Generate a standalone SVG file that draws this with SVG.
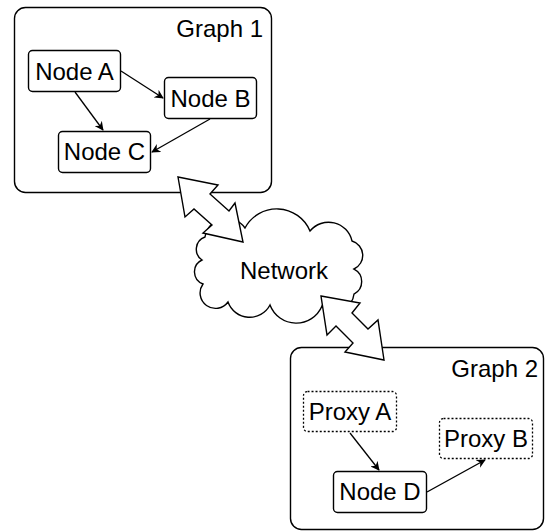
<svg xmlns="http://www.w3.org/2000/svg" width="545" height="531" viewBox="0 0 545 531">
<style>
.box{fill:#fff;stroke:#000;stroke-width:1.4}
.proxy{fill:#fff;stroke:#000;stroke-width:1.3;stroke-dasharray:2 2}
.lbl{font-family:"Liberation Sans",Arial,sans-serif;font-size:24px;fill:#000}
.edge{stroke:#000;stroke-width:1.3;fill:none;marker-end:url(#ah)}
.flex{fill:#fff;stroke:#000;stroke-width:1.4;stroke-linejoin:miter}
</style>
<defs>
<marker id="ah" viewBox="0 0 10 10" refX="9" refY="5" markerWidth="9" markerHeight="9" markerUnits="userSpaceOnUse" orient="auto">
<path d="M0,0 L10,5 L0,10 L3,5 Z" fill="#000"/>
</marker>
</defs>
<g id="graph1">
<rect class="box" x="14.5" y="7.5" width="257" height="185" rx="11"/>
<text class="lbl" x="263" y="37" text-anchor="end">Graph 1</text>
</g>
<g id="graph2">
<rect class="box" x="290.5" y="347.5" width="253" height="182" rx="11"/>
<text class="lbl" x="538" y="377" text-anchor="end">Graph 2</text>
</g>
<g id="network">
<path class="box" d="M205,237 A22,22 0 0 1 245,228 A36,36 0 0 1 310,231 A24,24 0 0 1 352,241 A15,15 0 0 1 354,269 A14,14 0 0 1 354,294 A19,19 0 0 1 322,306 A28,28 0 0 1 270,305 A23,23 0 0 1 228,302 A14,14 0 0 1 203,284 A13,13 0 0 1 202,260 A13,13 0 0 1 205,237 Z"/>
<text class="lbl" x="284" y="279" text-anchor="middle">Network</text>
</g>
<g id="node-a">
<rect class="box" x="28.5" y="50.5" width="92" height="41" rx="4"/>
<text class="lbl" x="74.5" y="80" text-anchor="middle">Node A</text>
</g>
<g id="node-b">
<rect class="box" x="164.5" y="77.5" width="92" height="41" rx="4"/>
<text class="lbl" x="210.5" y="107" text-anchor="middle">Node B</text>
</g>
<g id="node-c">
<rect class="box" x="58.5" y="131.5" width="92" height="41" rx="4"/>
<text class="lbl" x="104.5" y="160" text-anchor="middle">Node C</text>
</g>
<g id="proxy-a">
<rect class="proxy" x="303.5" y="391.5" width="93" height="40" rx="4"/>
<text class="lbl" x="350" y="420" text-anchor="middle">Proxy A</text>
</g>
<g id="proxy-b">
<rect class="proxy" x="439.5" y="418.5" width="93" height="40" rx="4"/>
<text class="lbl" x="486" y="447" text-anchor="middle">Proxy B</text>
</g>
<g id="node-d">
<rect class="box" x="333.5" y="471.5" width="93" height="41" rx="4"/>
<text class="lbl" x="380" y="500" text-anchor="middle">Node D</text>
</g>
<g id="connectors">
<line class="edge" x1="121" y1="71" x2="163" y2="98"/>
<line class="edge" x1="75" y1="92" x2="103" y2="130"/>
<line class="edge" x1="210" y1="119" x2="152" y2="152"/>
<line class="edge" x1="350" y1="433" x2="379" y2="470"/>
<line class="edge" x1="427" y1="492" x2="485" y2="460"/>
<polygon class="flex" points="178,177 218,185 210,194 229,211 235,203 243,242 203,233 212,225 194,209 185,217"/>
<polygon class="flex" points="321,296 360,303 352,313 368,329 378,320 384,360 345,352 353,343 336,326 327,335"/>
</g>
</svg>
